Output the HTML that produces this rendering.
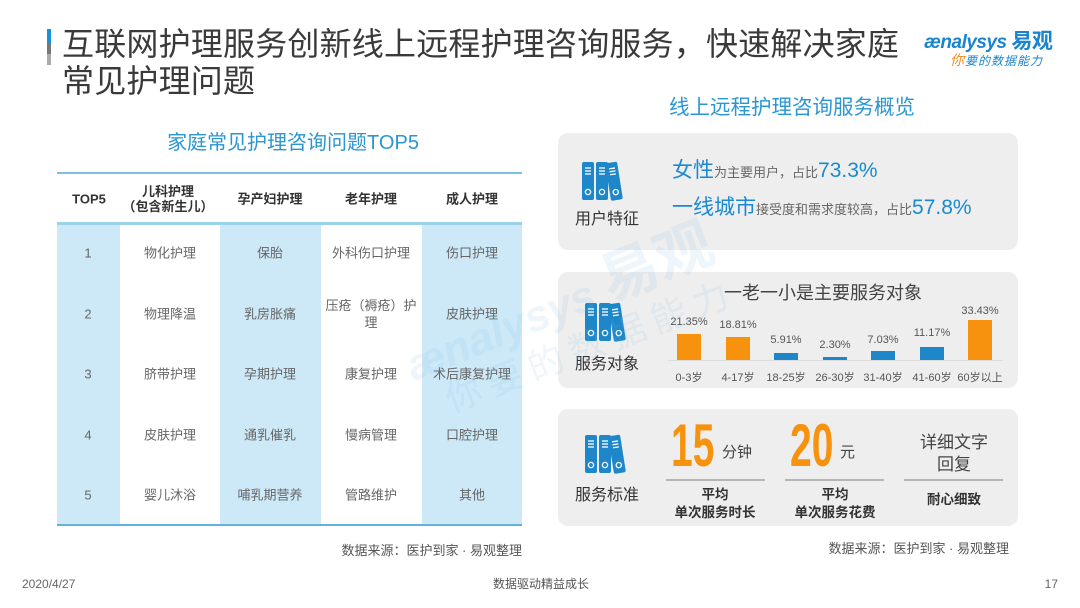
<!DOCTYPE html>
<html><head><meta charset="utf-8">
<style>
*{margin:0;padding:0;box-sizing:border-box}
body{width:1080px;height:608px;background:#fff;position:relative;overflow:hidden;font-family:"Liberation Sans","Noto Sans CJK SC",sans-serif;color:#333}
.a{position:absolute;white-space:nowrap}
.c{transform:translateX(-50%);text-align:center}
.card{position:absolute;left:558px;width:460px;background:#eeeeee;border-radius:10px}
.cell{position:absolute;font-size:13px;color:#666;text-align:center;transform:translate(-50%,-50%);line-height:17px}
.hd{position:absolute;font-size:13px;color:#333;font-weight:bold;text-align:center;transform:translate(-50%,-50%);line-height:15px}
.bar{position:absolute;width:24px}
.vl{position:absolute;font-size:11px;color:#555;transform:translate(-50%,-50%);line-height:12px}
.xl{position:absolute;font-size:11px;color:#555;transform:translate(-50%,-50%);line-height:12px;white-space:nowrap}
.big{position:absolute;font-family:"Liberation Sans",sans-serif;font-weight:bold;color:#f7920f;font-size:60px;line-height:60px;transform-origin:left top;transform:scaleX(0.65)}
.wm{position:absolute;white-space:nowrap;color:rgba(120,185,230,0.13);transform-origin:0 100%;z-index:5}
</style></head><body>

<!-- title -->
<div class="a" style="left:47px;top:29px;width:4px;height:36px;background:linear-gradient(#1a8fd6 0,#1a8fd6 40%,#777 40%,#777 70%,#aaa 70%)"></div>
<div class="a" style="left:62px;top:26px;font-size:32px;line-height:37px;color:#3a3a3a;letter-spacing:0.2px">互联网护理服务创新线上远程护理咨询服务，快速解决家庭<br>常见护理问题</div>

<!-- logo -->
<div class="a" style="left:924px;top:30px;font-size:19px;line-height:24px;color:#1a84cf;font-style:italic;font-weight:bold;letter-spacing:-0.5px">ænalysys <span style="font-style:normal;font-size:21px">易观</span></div>
<div class="a" style="left:950px;top:52px;font-size:12px;line-height:16px;color:#1a84cf;font-style:italic;letter-spacing:1px"><span style="color:#f08a1c;font-size:14px">你</span>要的数据能力</div>

<!-- left subtitle -->
<div class="a c" style="left:293px;top:131px;font-size:20px;line-height:24px;color:#2a96d2">家庭常见护理咨询问题TOP5</div>

<!-- table -->
<div class="a" style="left:57px;top:224px;width:63px;height:301px;background:#cde8f7"></div>
<div class="a" style="left:220px;top:224px;width:101px;height:301px;background:#cde8f7"></div>
<div class="a" style="left:422px;top:224px;width:100px;height:301px;background:#cde8f7"></div>
<div class="a" style="left:57px;top:172px;width:465px;height:2px;background:#7cc0de"></div>
<div class="a" style="left:57px;top:222px;width:465px;height:3px;background:#9dd1ea"></div>
<div class="a" style="left:57px;top:524px;width:465px;height:2px;background:#5fb3dc"></div>

<div class="hd" style="left:89px;top:199px">TOP5</div>
<div class="hd" style="left:168px;top:199px">儿科护理<br>（包含新生儿）</div>
<div class="hd" style="left:270px;top:199px">孕产妇护理</div>
<div class="hd" style="left:371px;top:199px">老年护理</div>
<div class="hd" style="left:472px;top:199px">成人护理</div>

<div class="cell" style="left:88px;top:253px">1</div>
<div class="cell" style="left:170px;top:253px">物化护理</div>
<div class="cell" style="left:270px;top:253px">保胎</div>
<div class="cell" style="left:371px;top:253px">外科伤口护理</div>
<div class="cell" style="left:472px;top:253px">伤口护理</div>

<div class="cell" style="left:88px;top:314px">2</div>
<div class="cell" style="left:170px;top:314px">物理降温</div>
<div class="cell" style="left:270px;top:314px">乳房胀痛</div>
<div class="cell" style="left:371px;top:314px;white-space:nowrap">压疮（褥疮）护<br>理</div>
<div class="cell" style="left:472px;top:314px">皮肤护理</div>

<div class="cell" style="left:88px;top:374px">3</div>
<div class="cell" style="left:170px;top:374px">脐带护理</div>
<div class="cell" style="left:270px;top:374px">孕期护理</div>
<div class="cell" style="left:371px;top:374px">康复护理</div>
<div class="cell" style="left:472px;top:374px;white-space:nowrap">术后康复护理</div>

<div class="cell" style="left:88px;top:435px">4</div>
<div class="cell" style="left:170px;top:435px">皮肤护理</div>
<div class="cell" style="left:270px;top:435px">通乳催乳</div>
<div class="cell" style="left:371px;top:435px">慢病管理</div>
<div class="cell" style="left:472px;top:435px">口腔护理</div>

<div class="cell" style="left:88px;top:495px">5</div>
<div class="cell" style="left:170px;top:495px">婴儿沐浴</div>
<div class="cell" style="left:270px;top:495px;white-space:nowrap">哺乳期营养</div>
<div class="cell" style="left:371px;top:495px">管路维护</div>
<div class="cell" style="left:472px;top:495px">其他</div>

<div class="a" style="right:558px;top:543px;font-size:13px;line-height:16px;color:#555">数据来源：医护到家 · 易观整理</div>

<!-- right subtitle -->
<div class="a c" style="left:792px;top:96px;font-size:20.5px;line-height:24px;color:#2a96d2">线上远程护理咨询服务概览</div>

<!-- card 1 -->
<div class="card" style="top:133px;height:117px"></div>
<svg class="a" style="left:582px;top:161px" width="44" height="40" viewBox="0 0 44 40">
<g fill="#1e87c9">
<rect x="0" y="1" width="12" height="38" rx="2"/><rect x="14" y="1" width="12" height="38" rx="2"/>
<rect x="29" y="1" width="12" height="38" rx="2" transform="rotate(-9 35 39)"/></g>
<g stroke="#fff" stroke-width="1.3" fill="none">
<line x1="3" y1="7" x2="9" y2="7"/><line x1="3" y1="10" x2="9" y2="10"/><line x1="3" y1="13" x2="9" y2="13"/><circle cx="6" cy="31" r="2.6"/>
<line x1="17" y1="7" x2="23" y2="7"/><line x1="17" y1="10" x2="23" y2="10"/><line x1="17" y1="13" x2="23" y2="13"/><circle cx="20" cy="31" r="2.6"/>
<g transform="rotate(-9 35 39)"><line x1="32" y1="7" x2="38" y2="7"/><line x1="32" y1="10" x2="38" y2="10"/><line x1="32" y1="13" x2="38" y2="13"/><circle cx="35" cy="31" r="2.6"/></g>
</g></svg>
<div class="a c" style="left:607px;top:210px;font-size:16px;line-height:20px;color:#333">用户特征</div>
<div class="a" style="left:672px;top:158px;line-height:26px;color:#1a8ad0;font-size:21px">女性<span style="font-size:13px;color:#666">为主要用户，占比</span><span style="font-size:21px">73.3%</span></div>
<div class="a" style="left:672px;top:195px;line-height:26px;color:#1a8ad0;font-size:21px">一线城市<span style="font-size:13px;color:#666">接受度和需求度较高，占比</span><span style="font-size:21px">57.8%</span></div>

<!-- card 2 -->
<div class="card" style="top:272px;height:116px"></div>
<div class="a c" style="left:823px;top:282px;font-size:18px;line-height:22px;color:#444">一老一小是主要服务对象</div>
<svg class="a" style="left:585px;top:302px" width="44" height="40" viewBox="0 0 44 40">
<g fill="#1e87c9">
<rect x="0" y="1" width="12" height="38" rx="2"/><rect x="14" y="1" width="12" height="38" rx="2"/>
<rect x="29" y="1" width="12" height="38" rx="2" transform="rotate(-9 35 39)"/></g>
<g stroke="#fff" stroke-width="1.3" fill="none">
<line x1="3" y1="7" x2="9" y2="7"/><line x1="3" y1="10" x2="9" y2="10"/><line x1="3" y1="13" x2="9" y2="13"/><circle cx="6" cy="31" r="2.6"/>
<line x1="17" y1="7" x2="23" y2="7"/><line x1="17" y1="10" x2="23" y2="10"/><line x1="17" y1="13" x2="23" y2="13"/><circle cx="20" cy="31" r="2.6"/>
<g transform="rotate(-9 35 39)"><line x1="32" y1="7" x2="38" y2="7"/><line x1="32" y1="10" x2="38" y2="10"/><line x1="32" y1="13" x2="38" y2="13"/><circle cx="35" cy="31" r="2.6"/></g>
</g></svg>
<div class="a c" style="left:607px;top:355px;font-size:16px;line-height:20px;color:#333">服务对象</div>
<div class="a" style="left:668px;top:360px;width:335px;height:1px;background:#dcdcdc"></div>
<div class="bar" style="left:677px;top:334px;height:26px;background:#f7920f"></div>
<div class="bar" style="left:726px;top:337px;height:23px;background:#f7920f"></div>
<div class="bar" style="left:774px;top:353px;height:7px;background:#1e87c9"></div>
<div class="bar" style="left:823px;top:357px;height:3px;background:#1e87c9"></div>
<div class="bar" style="left:871px;top:351px;height:9px;background:#1e87c9"></div>
<div class="bar" style="left:920px;top:347px;height:13px;background:#1e87c9"></div>
<div class="bar" style="left:968px;top:320px;height:40px;background:#f7920f"></div>
<div class="vl" style="left:689px;top:322px">21.35%</div>
<div class="vl" style="left:738px;top:325px">18.81%</div>
<div class="vl" style="left:786px;top:340px">5.91%</div>
<div class="vl" style="left:835px;top:345px">2.30%</div>
<div class="vl" style="left:883px;top:340px">7.03%</div>
<div class="vl" style="left:932px;top:333px">11.17%</div>
<div class="vl" style="left:980px;top:311px">33.43%</div>
<div class="xl" style="left:689px;top:378px">0-3岁</div>
<div class="xl" style="left:738px;top:378px">4-17岁</div>
<div class="xl" style="left:786px;top:378px">18-25岁</div>
<div class="xl" style="left:835px;top:378px">26-30岁</div>
<div class="xl" style="left:883px;top:378px">31-40岁</div>
<div class="xl" style="left:932px;top:378px">41-60岁</div>
<div class="xl" style="left:980px;top:378px">60岁以上</div>

<!-- card 3 -->
<div class="card" style="top:409px;height:117px"></div>
<svg class="a" style="left:585px;top:434px" width="44" height="40" viewBox="0 0 44 40">
<g fill="#1e87c9">
<rect x="0" y="1" width="12" height="38" rx="2"/><rect x="14" y="1" width="12" height="38" rx="2"/>
<rect x="29" y="1" width="12" height="38" rx="2" transform="rotate(-9 35 39)"/></g>
<g stroke="#fff" stroke-width="1.3" fill="none">
<line x1="3" y1="7" x2="9" y2="7"/><line x1="3" y1="10" x2="9" y2="10"/><line x1="3" y1="13" x2="9" y2="13"/><circle cx="6" cy="31" r="2.6"/>
<line x1="17" y1="7" x2="23" y2="7"/><line x1="17" y1="10" x2="23" y2="10"/><line x1="17" y1="13" x2="23" y2="13"/><circle cx="20" cy="31" r="2.6"/>
<g transform="rotate(-9 35 39)"><line x1="32" y1="7" x2="38" y2="7"/><line x1="32" y1="10" x2="38" y2="10"/><line x1="32" y1="13" x2="38" y2="13"/><circle cx="35" cy="31" r="2.6"/></g>
</g></svg>
<div class="a c" style="left:607px;top:486px;font-size:16px;line-height:20px;color:#333">服务标准</div>

<div class="big" style="left:671px;top:416px">15</div>
<div class="a" style="left:722px;top:444px;font-size:15px;line-height:18px;color:#444">分钟</div>
<div class="a" style="left:666px;top:479px;width:99px;height:2px;background:#b5b5b5"></div>
<div class="a c" style="left:715px;top:486px;font-size:13.5px;line-height:18px;color:#333;font-weight:bold">平均<br>单次服务时长</div>

<div class="big" style="left:790px;top:416px">20</div>
<div class="a" style="left:840px;top:444px;font-size:15px;line-height:18px;color:#444">元</div>
<div class="a" style="left:785px;top:479px;width:99px;height:2px;background:#b5b5b5"></div>
<div class="a c" style="left:835px;top:486px;font-size:13.5px;line-height:18px;color:#333;font-weight:bold">平均<br>单次服务花费</div>

<div class="a c" style="left:954px;top:432px;font-size:17px;line-height:22px;color:#444">详细文字<br>回复</div>
<div class="a" style="left:904px;top:479px;width:99px;height:2px;background:#b5b5b5"></div>
<div class="a c" style="left:954px;top:491px;font-size:13.5px;line-height:18px;color:#333;font-weight:bold">耐心细致</div>

<div class="a" style="right:71px;top:541px;font-size:13px;line-height:16px;color:#555">数据来源：医护到家 · 易观整理</div>

<!-- watermark (drawn over content, faint) -->
<div class="wm" style="left:417px;top:332px;height:60px;line-height:60px;transform:rotate(-22deg)"><span style="font-size:44px;font-weight:bold;font-style:italic">ænalysys </span><span style="font-size:58px;font-weight:bold">易观</span></div>
<div class="wm" style="left:455px;top:378px;height:44px;line-height:44px;font-size:36px;letter-spacing:8px;transform:rotate(-21deg)">你要的数据能力</div>

<!-- footer -->
<div class="a" style="left:22px;top:577px;font-size:12px;line-height:15px;color:#666">2020/4/27</div>
<div class="a c" style="left:541px;top:577px;font-size:12px;line-height:15px;color:#555">数据驱动精益成长</div>
<div class="a" style="right:22px;top:577px;font-size:12px;line-height:15px;color:#666">17</div>
</body></html>
